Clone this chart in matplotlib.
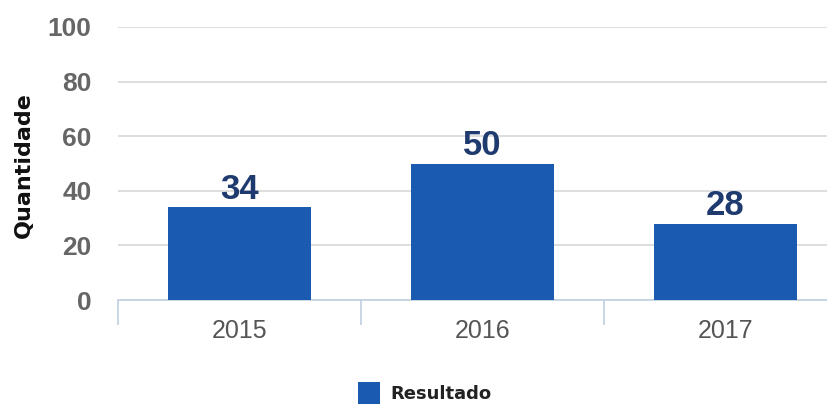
import matplotlib
matplotlib.use("Agg")
import matplotlib.pyplot as plt

categories = ["2015", "2016", "2017"]
values = [34, 50, 28]
yticks = [0, 20, 40, 60, 80, 100]
series_name = "Resultado"

fig = plt.figure(figsize=(8.27, 4.05), dpi=100)
ax = fig.add_axes([118/827, 1-300/405, (827-118)/827, (300-27)/405])

x = list(range(len(categories)))
bars = ax.bar(x, values, width=0.59, color="#1a5ab0", label=series_name, zorder=3)
ax.set_xlim(-0.5, -0.5 + (827-118)/243)
ax.set_ylim(0, 100)

for xi, v in zip(x, values):
    ax.text(xi, v + 0.6, str(v), ha="center", va="bottom", fontsize=25,
            fontweight="bold", color="#1f3a6e", family="Liberation Sans", zorder=4)

ax.set_yticks(yticks)
ax.set_yticklabels([str(t) for t in yticks], fontsize=19, fontweight="bold",
                   color="#666666", family="Liberation Sans")
ax.yaxis.grid(True, color="#d8d8d8", linewidth=1.2, zorder=0)
ax.tick_params(axis="y", length=0, pad=19)

ax.set_xticks(x)
ax.set_xticklabels(categories, fontsize=18, color="#555555", family="Liberation Sans")
ax.tick_params(axis="x", which="major", length=0, pad=14)
ax.set_xticks([-0.5, 0.5, 1.5], minor=True)
ax.tick_params(axis="x", which="minor", length=18, color="#c0d0e0", width=1.2)

for s in ["top", "right", "left"]:
    ax.spines[s].set_visible(False)
ax.spines["bottom"].set_color("#c0d0e0")
ax.spines["bottom"].set_linewidth(1.2)

fig.text(24/827, 1-165/405, "Quantidade", rotation=90, ha="center", va="center",
         fontsize=16, fontweight="bold", color="#111111", family="DejaVu Sans")

fig.legend(handles=[bars], labels=[series_name], loc="center", bbox_to_anchor=(425/827, 1-393/405),
           frameon=False, prop={"weight": "bold", "size": 13, "family": "DejaVu Sans"},
           handlelength=1.2, handleheight=1.5, handletextpad=0.6, labelcolor="#222222")

fig.savefig("out.png", dpi=100)
